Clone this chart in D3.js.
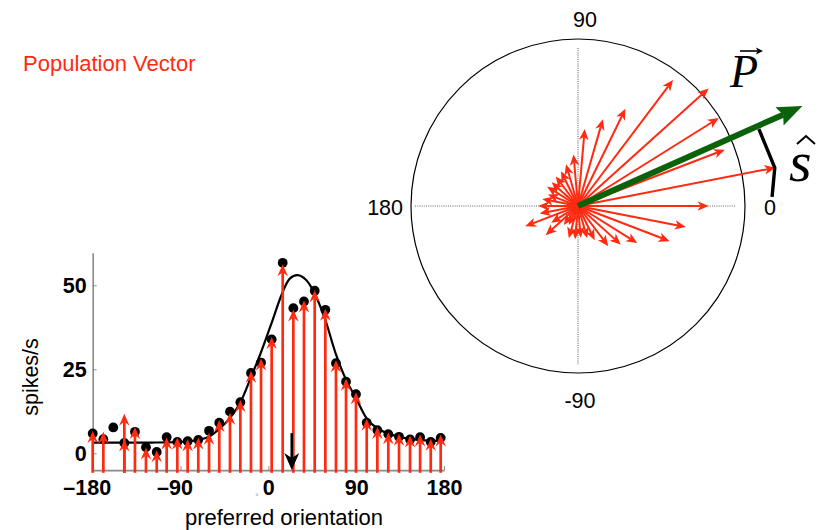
<!DOCTYPE html>
<html>
<head>
<meta charset="utf-8">
<script src="https://cdn.jsdelivr.net/npm/d3@7"></script>
<style>
  body { margin: 0; background: #fff; }
  svg { display: block; }
  text { font-family: "Liberation Sans", Arial, sans-serif; }
</style>
</head>
<body>
<div id="chart"></div>
<script>
'use strict'

// measured dots (preferred orientation, spikes/s)
const dotOrient = [-180, -169.1, -158.9, -147.6, -136.7, -125.4, -114.4, -104.2, -93.3, -82.7, -71.8, -60.8, -50.3, -39.3, -28.7, -17.8, -7.5, 3.4, 14.7, 25.6, 36.5, 47.5, 58.4, 69.3, 79.6, 89.8, 100.8, 111.7, 122.9, 133.9, 145.2, 155.5, 166.4, 176.6]
const dotRate = [5.9, 4.2, 7.7, 3.1, 6.4, 1.8, 0.4, 4.8, 3.4, 3.6, 4.0, 6.7, 9.1, 12.4, 15.2, 23.9, 27.0, 33.9, 56.7, 43.2, 45.2, 48.4, 42.7, 26.8, 21.3, 17.6, 9.1, 6.9, 5.7, 4.9, 4.1, 4.8, 3.4, 4.6]

// red stems (where each arrow is drawn and where its tip sits)
const stemOrient = [-180, -169.1, -147.6, -147.6, -136.7, -125.4, -114.4, -104.2, -93.3, -82.7, -71.8, -60.8, -50.3, -39.3, -28.7, -17.8, -7.5, 3.4, 14.7, 25.6, 36.5, 47.5, 58.4, 69.3, 79.6, 89.8, 100.8, 111.7, 122.9, 133.9, 145.2, 155.5, 166.4, 176.6]
const stemRate = [6.6, 6.4, 11.8, 4.1, 7.8, 1.7, 0.9, 4.7, 4.7, 4.2, 4.7, 6.1, 9.9, 12.1, 15.9, 24.6, 28.2, 34.6, 56.3, 42.8, 45.5, 48.5, 43.0, 27.7, 22.2, 18.2, 10.3, 7.8, 6.3, 5.8, 5.3, 5.6, 4.3, 5.6]
const stemBase = -5.8

// angle of each neuron's arrow in the polar plot
const polarAngle = [-180, -169, -159, -148, -138, -127, -116, -106, -95, -85, -74, -64, -53, -42, -32, -21, -11, 0, 11, 21, 32, 42, 53, 64, 74, 85, 95, 106, 116, 127, 138, 148, 159, 169]

// tuning curve
const curveOrient = [-180, -150, -120, -95, -80, -70, -61, -50, -39, -29, -18, -8, 3, 14, 22, 30, 39, 47.5, 58, 69, 80, 90, 101, 112, 123, 134, 145, 156, 177]
const curveRate = [3.2, 3.2, 3.2, 3.3, 3.6, 4.1, 4.9, 7.3, 10.6, 15, 22.5, 29.7, 38.5, 47.5, 52, 53, 51.5, 47.5, 40, 29.7, 21.7, 16.3, 10.3, 7.3, 5.9, 4.9, 4.3, 3.9, 3.7]

const xTicks = [-180, -90, 0, 90, 180]
const yTicks = [0, 25, 50]
const polarTickAngles = [0, 90, 180, -90]
const polarTickLabels = ['0', '90', '180', '-90']

const popAngle = 24
const popMagnitude = 70

// the s-hat bracket, in polar terms
const sHatAngle = [23, 11, 2.7]
const sHatValue = [54.9, 56.1, 54.2]

const red = '#ff2a10'
const green = '#0b620b'

const svg = d3.select('#chart')
  .append('svg')
  .attr('width', 829)
  .attr('height', 530)

svg.append('rect').attr('width', 829).attr('height', 530).attr('fill', '#fff')

// arrow head polygon with swept-back barbs
function headPath (x1, y1, x2, y2, len, wid, notch) {
  const dx = x2 - x1
  const dy = y2 - y1
  const d = Math.hypot(dx, dy) || 1
  const ux = dx / d
  const uy = dy / d
  const px = -uy
  const py = ux
  const bx = x2 - ux * len
  const by = y2 - uy * len
  const nx = x2 - ux * (len - notch)
  const ny = y2 - uy * (len - notch)
  return `M${x2},${y2}L${bx + px * wid / 2},${by + py * wid / 2}L${nx},${ny}L${bx - px * wid / 2},${by - py * wid / 2}Z`
}

function arrow (g, x1, y1, x2, y2, color, lw, len, wid, notch) {
  const d = Math.hypot(x2 - x1, y2 - y1) || 1
  const ex = x2 - (x2 - x1) / d * (len - notch)
  const ey = y2 - (y2 - y1) / d * (len - notch)
  g.append('line')
    .attr('x1', x1).attr('y1', y1)
    .attr('x2', ex).attr('y2', ey)
    .attr('stroke', color)
    .attr('stroke-width', lw)
  g.append('path')
    .attr('d', headPath(x1, y1, x2, y2, len, wid, notch))
    .attr('fill', color)
}

svg.append('text')
  .attr('x', 23)
  .attr('y', 71)
  .attr('fill', red)
  .style('font-size', '22px')
  .text('Population Vector')

// ---------- tuning curve panel ----------
const x = d3.scaleLinear().domain([-180, 180]).range([92.7, 444])
const y = d3.scaleLinear().domain([0, 50]).range([453.3, 285.3])

const xAxis = svg.append('g')
  .attr('transform', `translate(0, ${y(-5)})`)
  .call(d3.axisBottom(x).tickValues(xTicks).tickSize(-4).tickSizeOuter(0).tickPadding(10)
    .tickFormat(d => d < 0 ? '\u2013' + Math.abs(d) : d))
xAxis.select('.domain').attr('stroke', '#8a8a8a').attr('stroke-width', 1.6)
xAxis.selectAll('.tick line').attr('stroke', '#8a8a8a')
xAxis.selectAll('.tick text')
  .attr('fill', '#000')
  .attr('dx', d => d < 0 ? -6 : 0)
  .style('font-size', '21.5px')
  .style('font-weight', 'bold')
  .style('font-family', '"Liberation Sans", Arial, sans-serif')

const yAxisScale = y.copy().domain([-5, 59.7]).range([y(-5), y(59.7)])
const yAxis = svg.append('g')
  .attr('transform', `translate(${x(-180)}, 0)`)
  .call(d3.axisLeft(yAxisScale).tickValues(yTicks).tickSize(-4).tickSizeOuter(0).tickPadding(6))
yAxis.select('.domain').attr('stroke', '#8a8a8a').attr('stroke-width', 1.6)
yAxis.selectAll('.tick line').attr('stroke', '#8a8a8a')
yAxis.selectAll('.tick text')
  .attr('fill', '#000')
  .style('font-size', '21.5px')
  .style('font-weight', 'bold')
  .style('font-family', '"Liberation Sans", Arial, sans-serif')

svg.append('text')
  .attr('transform', `translate(38, 377) rotate(-90)`)
  .attr('text-anchor', 'middle')
  .style('font-size', '21.5px')
  .text('spikes/s')

svg.append('text')
  .attr('x', 284)
  .attr('y', 525)
  .attr('text-anchor', 'middle')
  .style('font-size', '22px')
  .text('preferred orientation')

svg.append('text')
  .attr('x', 257)
  .attr('y', 500)
  .attr('text-anchor', 'middle')
  .attr('fill', '#999')
  .style('font-size', '9px')
  .text('\u00b0')

const curve = curveOrient.map((o, i) => [x(o), y(curveRate[i])])
svg.append('path')
  .attr('d', d3.line().curve(d3.curveCatmullRom)(curve))
  .attr('fill', 'none')
  .attr('stroke', '#000')
  .attr('stroke-width', 2.2)

svg.append('g').selectAll('circle')
  .data(dotOrient)
  .enter()
  .append('circle')
  .attr('cx', d => x(d))
  .attr('cy', (d, i) => y(dotRate[i]))
  .attr('r', 4.9)
  .attr('fill', '#000')

const stems = svg.append('g')
stemOrient.forEach((o, i) => {
  arrow(stems, x(o), y(stemBase), x(o), y(stemRate[i]), red, 2.7, 12, 10.5, 4)
})

// population vector direction on the orientation axis
arrow(svg.append('g'), x(popAngle), y(6), x(popAngle), y(-5), '#000', 2.6, 17, 15, 5)

// ---------- polar panel ----------
const cx = 578
const cy = 206
const r = d3.scaleLinear().domain([-5.6, 45.8]).range([0, 167])
const rad = a => a * Math.PI / 180
const px = (a, v) => cx + r(v) * Math.cos(rad(a))
const py = (a, v) => cy - r(v) * Math.sin(rad(a))

const polar = svg.append('g')
polar.append('circle')
  .attr('cx', cx).attr('cy', cy)
  .attr('r', r(45.8))
  .attr('fill', 'none')
  .attr('stroke', '#000')
  .attr('stroke-width', 1.2)

polar.append('line')
  .attr('x1', cx - 163).attr('x2', cx + 157)
  .attr('y1', cy).attr('y2', cy)
  .attr('stroke', '#666').attr('stroke-width', 1.1).attr('stroke-dasharray', '1,1.2')
polar.append('line')
  .attr('x1', cx).attr('x2', cx)
  .attr('y1', cy - 158).attr('y2', cy + 159)
  .attr('stroke', '#666').attr('stroke-width', 1.1).attr('stroke-dasharray', '1,1.2')

const labelSpec = {
  0: { dx: 192, dy: 9, anchor: 'middle' },
  90: { dx: 7, dy: -179, anchor: 'middle' },
  180: { dx: -175, dy: 9, anchor: 'end' },
  '-90': { dx: 2, dy: 202, anchor: 'middle' }
}
polarTickAngles.forEach((a, i) => {
  const s = labelSpec[a]
  polar.append('text')
    .attr('x', cx + s.dx)
    .attr('y', cy + s.dy)
    .attr('text-anchor', s.anchor)
    .style('font-size', '21.5px')
    .text(polarTickLabels[i])
})

const spokes = polar.append('g')
polarAngle.forEach((a, i) => {
  arrow(spokes, cx, cy, px(a, stemRate[i]), py(a, stemRate[i]), red, 2, 11, 9.5, 3)
})

arrow(polar.append('g'), cx, cy, px(popAngle, popMagnitude), py(popAngle, popMagnitude), green, 6, 25, 20, 4)

polar.append('path')
  .attr('d', d3.line()(sHatAngle.map((a, i) => [px(a, sHatValue[i]), py(a, sHatValue[i])])))
  .attr('fill', 'none')
  .attr('stroke', '#000')
  .attr('stroke-width', 3.4)
  .attr('stroke-linejoin', 'round')

// vector labels
svg.append('text')
  .attr('x', 730)
  .attr('y', 87)
  .style('font-family', '"Liberation Serif", "DejaVu Serif", serif')
  .style('font-style', 'italic')
  .style('font-size', '46px')
  .text('P')
arrow(svg.append('g'), 740, 51, 763, 51, '#000', 1.6, 7, 7, 1.5)

svg.append('text')
  .attr('x', 789)
  .attr('y', 181)
  .style('font-family', '"Liberation Serif", "DejaVu Serif", serif')
  .style('font-style', 'italic')
  .style('font-size', '58px')
  .text('s')
svg.append('path')
  .attr('d', 'M797,144L806,136L815,144')
  .attr('fill', 'none')
  .attr('stroke', '#000')
  .attr('stroke-width', 2)
</script>
</body>
</html>
